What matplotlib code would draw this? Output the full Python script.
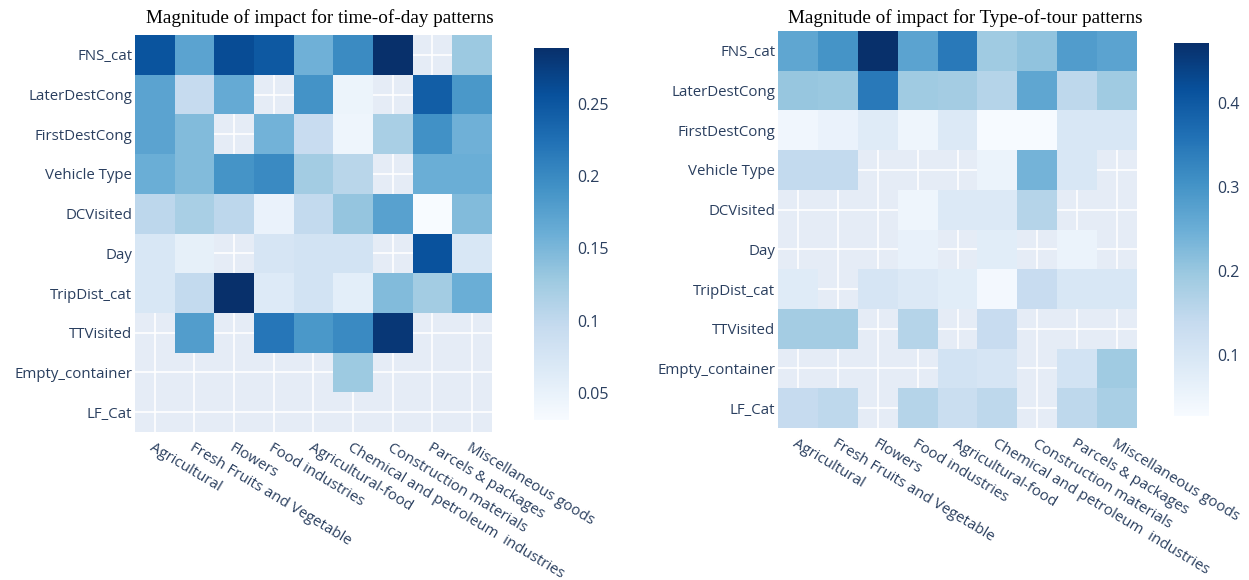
import numpy as np
import matplotlib
matplotlib.use("Agg")
import matplotlib.pyplot as plt
from matplotlib.ticker import FuncFormatter

nan = np.nan

categories = ["Agricultural", "Fresh Fruits and Vegetable", "Flowers", "Food industries",
              "Agricultural-food", "Chemical and petroleum  industries",
              "Construction materials", "Parcels & packages", "Miscellaneous goods"]
features = ["FNS_cat", "LaterDestCong", "FirstDestCong", "Vehicle Type", "DCVisited",
            "Day", "TripDist_cat", "TTVisited", "Empty_container", "LF_Cat"]

title_left = "Magnitude of impact for time-of-day patterns"
title_right = "Magnitude of impact for Type-of-tour patterns"

# time-of-day impacts (rows = features, cols = categories); nan = no value
tod_values = [
    [0.253, 0.173, 0.261, 0.248, 0.157, 0.199, 0.289, nan,   0.129],
    [0.173, 0.096, 0.165, nan,   0.191, 0.046, nan,   0.243, 0.186],
    [0.173, 0.145, nan,   0.155, 0.093, 0.043, 0.119, 0.193, 0.157],
    [0.160, 0.145, 0.190, 0.200, 0.124, 0.106, nan,   0.160, 0.160],
    [0.103, 0.119, 0.103, 0.049, 0.098, 0.133, 0.175, 0.031, 0.145],
    [0.072, 0.054, nan,   0.075, 0.080, 0.080, nan,   0.255, 0.072],
    [0.072, 0.098, 0.289, 0.065, 0.080, 0.057, 0.145, 0.124, 0.160],
    [nan,   0.180, nan,   0.219, 0.186, 0.200, 0.281, nan,   nan],
    [nan,   nan,   nan,   nan,   nan,   0.128, nan,   nan,   nan],
    [nan,   nan,   nan,   nan,   nan,   nan,   nan,   nan,   nan],
]
tod_range = (0.031, 0.289)
tod_ticks = [0.05, 0.1, 0.15, 0.2, 0.25]

# type-of-tour impacts
tot_values = [
    [0.265, 0.300, 0.471, 0.271, 0.347, 0.191, 0.209, 0.285, 0.271],
    [0.202, 0.198, 0.347, 0.191, 0.185, 0.162, 0.265, 0.149, 0.191],
    [0.043, 0.058, 0.082, 0.049, 0.089, 0.029, 0.029, 0.098, 0.098],
    [0.142, 0.142, nan,   nan,   nan,   0.054, 0.240, 0.098, nan],
    [nan,   nan,   nan,   0.047, 0.089, 0.089, 0.162, nan,   nan],
    [nan,   nan,   nan,   0.060, nan,   0.076, nan,   0.054, nan],
    [0.082, nan,   0.102, 0.089, 0.076, 0.036, 0.134, 0.098, 0.098],
    [0.185, 0.185, nan,   0.162, nan,   0.134, nan,   nan,   nan],
    [nan,   nan,   nan,   nan,   0.111, 0.102, nan,   0.111, 0.191],
    [0.138, 0.149, nan,   0.162, 0.129, 0.149, nan,   0.149, 0.178],
]
tot_range = (0.027, 0.471)
tot_ticks = [0.1, 0.2, 0.3, 0.4]

W, H = 1249, 580
fig = plt.figure(figsize=(W / 100, H / 100), dpi=100)
fig.patch.set_facecolor("white")

TXT = "#2a3f5f"
FONT = ["Open Sans", "DejaVu Sans"]


def px_rect(x0, y0, x1, y1):
    return [x0 / W, 1 - y1 / H, (x1 - x0) / W, (y1 - y0) / H]


def draw(values, vrange, ticks, hm_box, cb_box, title, title_x):
    ax = fig.add_axes(px_rect(*hm_box))
    data = np.ma.masked_invalid(np.array(values, dtype=float))
    nr, nc = data.shape
    ax.set_facecolor("#E5ECF6")
    ax.set_axisbelow(True)
    mesh = ax.pcolormesh(np.arange(nc + 1) - 0.5, np.arange(nr + 1) - 0.5, data,
                         cmap="Blues", vmin=vrange[0], vmax=vrange[1],
                         edgecolors="none", antialiased=False)
    ax.set_xlim(-0.5, nc - 0.5)
    ax.set_ylim(nr - 0.5, -0.5)
    ax.set_xticks(np.arange(nc))
    ax.set_yticks(np.arange(nr))
    ax.grid(True, color="white", linewidth=1.2)
    for s in ax.spines.values():
        s.set_visible(False)
    ax.tick_params(length=0, pad=2)
    ax.set_yticklabels(features, fontsize=10.8, color=TXT, family=FONT)
    ax.set_xticklabels(categories, fontsize=10.8, color=TXT, family=FONT,
                       rotation=-31, ha="left", va="top", rotation_mode="anchor")
    ax.tick_params(axis="x", pad=6)

    cax = fig.add_axes(px_rect(*cb_box))
    cb = fig.colorbar(mesh, cax=cax, ticks=ticks)
    cb.outline.set_visible(False)
    cax.tick_params(length=0, pad=6, labelsize=11.5, labelcolor=TXT)
    cax.yaxis.set_major_formatter(FuncFormatter(lambda v, p: f"{v:g}"))
    for lab in cax.get_yticklabels():
        lab.set_family(FONT)

    fig.text(title_x / W, 1 - 18 / H, title, ha="center", va="center",
             fontsize=13.8, family="Liberation Serif", color="black")


draw(tod_values, tod_range, tod_ticks, (135, 35, 492, 432), (534, 48, 569, 420),
     title_left, 320)
draw(tot_values, tot_range, tot_ticks, (778, 31, 1137, 428), (1174, 43, 1209, 416),
     title_right, 965)

fig.savefig("out.png", dpi=100, facecolor="white")
